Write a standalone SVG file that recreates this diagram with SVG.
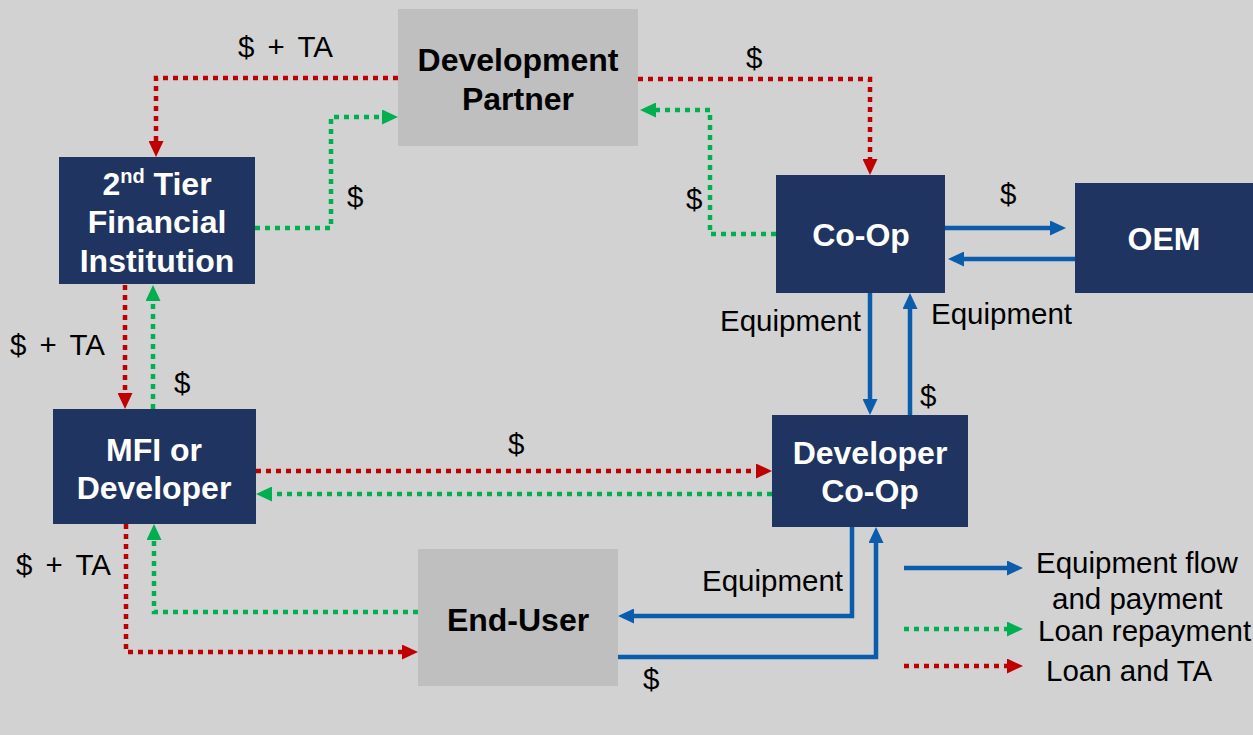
<svg xmlns="http://www.w3.org/2000/svg" width="1253" height="735" viewBox="0 0 1253 735">
  <defs>
    <style>
      .navy { fill: #1f3460; }
      .grey { fill: #bfbfbf; }
      .nt { font-family: "Liberation Sans", Arial, sans-serif; font-weight: bold; font-size: 32px; text-anchor: middle; fill: #ffffff; }
      .nt.dark { fill: #000000; }
      .lb { font-family: "Liberation Sans", Arial, sans-serif; font-size: 29.5px; fill: #000000; }
      .ws { word-spacing: 5px; }
      .red { fill: none; stroke: #c00000; stroke-width: 4.5; stroke-dasharray: 5 5; }
      .green { fill: none; stroke: #00b050; stroke-width: 4.5; stroke-dasharray: 5 5; }
      .blue { fill: none; stroke: #0a5cad; stroke-width: 4.5; }
    </style>
    <marker id="arR" markerUnits="userSpaceOnUse" markerWidth="16" markerHeight="15" refX="6" refY="7.5" orient="auto">
      <path d="M0,0 L16,7.5 L0,15 z" fill="#c00000"/>
    </marker>
    <marker id="arG" markerUnits="userSpaceOnUse" markerWidth="16" markerHeight="15" refX="6" refY="7.5" orient="auto">
      <path d="M0,0 L16,7.5 L0,15 z" fill="#00b050"/>
    </marker>
    <marker id="arB" markerUnits="userSpaceOnUse" markerWidth="16" markerHeight="15" refX="6" refY="7.5" orient="auto">
      <path d="M0,0 L16,7.5 L0,15 z" fill="#0a5cad"/>
    </marker>
  </defs>

  <rect x="0" y="0" width="1253" height="735" fill="#d2d2d2"/>

  <!-- connectors -->
  <g id="connectors">
    <path class="red" d="M398,78 H156 V147" marker-end="url(#arR)"/>
    <path class="green" d="M255,228 H331 V117 H388" marker-end="url(#arG)"/>
    <path class="red" d="M638,79 H870 V165" marker-end="url(#arR)"/>
    <path class="green" d="M776,234 H710 V110 H650" marker-end="url(#arG)"/>
    <path class="blue" d="M945,228 H1056" marker-end="url(#arB)"/>
    <path class="blue" d="M1075,259 H958" marker-end="url(#arB)"/>
    <path class="blue" d="M870,293 V405" marker-end="url(#arB)"/>
    <path class="blue" d="M910,415 V303" marker-end="url(#arB)"/>
    <path class="red" d="M125,285 V399" marker-end="url(#arR)"/>
    <path class="green" d="M153,409 V295" marker-end="url(#arG)"/>
    <path class="red" d="M256,471 H762" marker-end="url(#arR)"/>
    <path class="green" d="M772,494 H266" marker-end="url(#arG)"/>
    <path class="red" d="M126,524 V652 H408" marker-end="url(#arR)"/>
    <path class="green" d="M418,612 H154 V534" marker-end="url(#arG)"/>
    <path class="blue" d="M852,527 V616 H628" marker-end="url(#arB)"/>
    <path class="blue" d="M618,657 H876 V537" marker-end="url(#arB)"/>
  </g>

  <!-- flow labels -->
  <g id="labels">
    <text class="lb ws" x="238" y="57">$ + TA</text>
    <text class="lb" x="746" y="68">$</text>
    <text class="lb" x="347" y="207">$</text>
    <text class="lb" x="686" y="209">$</text>
    <text class="lb" x="1000" y="204">$</text>
    <text class="lb" x="720" y="331">Equipment</text>
    <text class="lb" x="931" y="324">Equipment</text>
    <text class="lb" x="920" y="406">$</text>
    <text class="lb ws" x="10" y="355">$ + TA</text>
    <text class="lb" x="174" y="393">$</text>
    <text class="lb" x="508" y="454">$</text>
    <text class="lb ws" x="16" y="575">$ + TA</text>
    <text class="lb" x="702" y="591">Equipment</text>
    <text class="lb" x="643" y="689">$</text>
  </g>

  <!-- nodes -->
  <g id="development-partner">
    <rect class="grey" x="398" y="9" width="240" height="137"/>
    <text class="nt dark" x="518" y="71">Development</text>
    <text class="nt dark" x="518" y="110">Partner</text>
  </g>
  <g id="second-tier">
    <rect class="navy" x="59" y="157" width="196" height="127"/>
    <text class="nt" x="157" y="195">2<tspan font-size="20" dy="-12">nd</tspan><tspan dy="12"> Tier</tspan></text>
    <text class="nt" x="157" y="233">Financial</text>
    <text class="nt" x="157" y="272">Institution</text>
  </g>
  <g id="co-op">
    <rect class="navy" x="776" y="175" width="169" height="118"/>
    <text class="nt" x="861" y="246">Co-Op</text>
  </g>
  <g id="oem">
    <rect class="navy" x="1075" y="183" width="178" height="110"/>
    <text class="nt" x="1164" y="250">OEM</text>
  </g>
  <g id="mfi-developer">
    <rect class="navy" x="53" y="409" width="203" height="115"/>
    <text class="nt" x="154" y="461">MFI or</text>
    <text class="nt" x="154" y="499">Developer</text>
  </g>
  <g id="developer-co-op">
    <rect class="navy" x="772" y="415" width="196" height="112"/>
    <text class="nt" x="870" y="464">Developer</text>
    <text class="nt" x="870" y="502">Co-Op</text>
  </g>
  <g id="end-user">
    <rect class="grey" x="418" y="549" width="200" height="137"/>
    <text class="nt dark" x="518" y="631">End-User</text>
  </g>

  <!-- legend -->
  <g id="legend">
    <path class="blue" d="M904,568 H1013" marker-end="url(#arB)"/>
    <path class="green" d="M904,629 H1013" marker-end="url(#arG)"/>
    <path class="red" d="M904,666 H1013" marker-end="url(#arR)"/>
    <text class="lb" x="1036" y="573">Equipment flow</text>
    <text class="lb" x="1052" y="609">and payment</text>
    <text class="lb" x="1038" y="641">Loan repayment</text>
    <text class="lb" x="1046" y="681">Loan and TA</text>
  </g>
</svg>
